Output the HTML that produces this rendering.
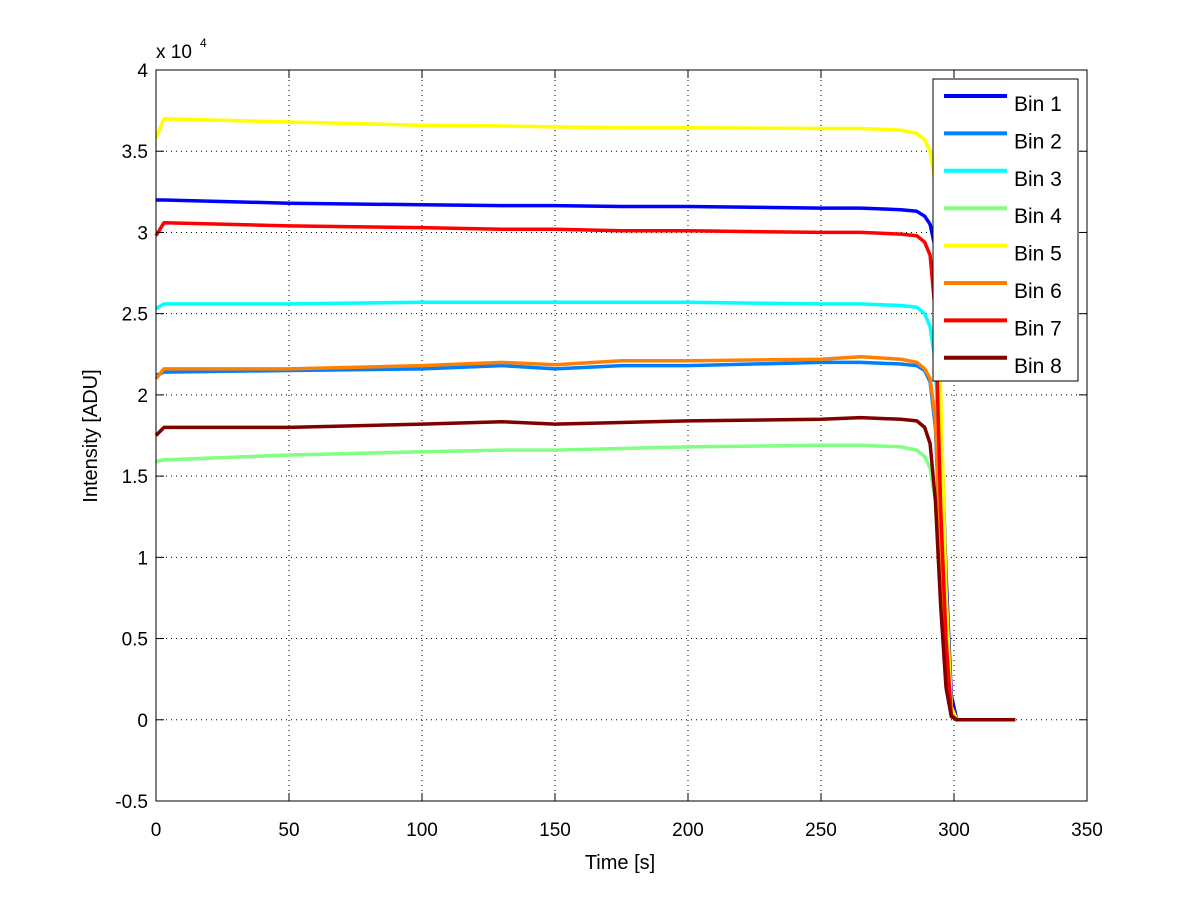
<!DOCTYPE html>
<html><head><meta charset="utf-8"><style>
body{margin:0;background:#fff;font-family:"Liberation Sans",sans-serif}
svg text{font-family:"Liberation Sans",sans-serif}
</style></head><body>
<svg id="chart" width="1200" height="901">
<rect width="1200" height="901" fill="#fff"/>
<g id="grid"></g><g id="series"></g><g id="axes"></g><g id="legend"></g>
</svg>
<script>
const times=[0,3,50,100,130,150,175,200,250,265,280,286,289,291,293,295,297,299,301,323];
const bin1=[3.20,3.20,3.18,3.17,3.165,3.165,3.16,3.16,3.15,3.15,3.14,3.13,3.10,3.05,2.9,1.9,0.9,0.15,0.0,0];
const bin2=[2.12,2.14,2.15,2.16,2.18,2.16,2.18,2.18,2.20,2.20,2.19,2.18,2.15,2.08,1.8,1.0,0.4,0.03,0,0];
const bin3=[2.53,2.56,2.56,2.57,2.57,2.57,2.57,2.57,2.56,2.56,2.55,2.54,2.50,2.42,2.2,1.3,0.5,0.03,0,0];
const bin4=[1.59,1.60,1.63,1.65,1.66,1.66,1.67,1.68,1.69,1.69,1.68,1.66,1.62,1.55,1.35,0.9,0.35,0.02,0,0];
const bin5=[3.58,3.70,3.68,3.66,3.655,3.65,3.645,3.645,3.64,3.64,3.63,3.61,3.57,3.50,3.3,2.0,0.8,0.08,0,0];
const bin6=[2.10,2.16,2.16,2.18,2.20,2.185,2.21,2.21,2.22,2.235,2.22,2.20,2.16,2.10,1.85,1.0,0.4,0.03,0,0];
const bin7=[2.98,3.06,3.04,3.03,3.02,3.02,3.01,3.01,3.00,3.00,2.99,2.98,2.94,2.86,2.5,1.3,0.5,0.03,0,0];
const bin8=[1.75,1.80,1.80,1.82,1.835,1.82,1.83,1.84,1.85,1.86,1.85,1.84,1.80,1.70,1.35,0.7,0.2,0.02,0,0];
const xTicks=[0,50,100,150,200,250,300,350];
const yTicks=[-0.5,0,0.5,1,1.5,2,2.5,3,3.5,4];
const names=["Bin 1","Bin 2","Bin 3","Bin 4","Bin 5","Bin 6","Bin 7","Bin 8"];
const colors=["#0000ff","#0080ff","#00ffff","#80ff80","#ffff00","#ff8000","#ff0000","#800000"];
const all=[bin1,bin2,bin3,bin4,bin5,bin6,bin7,bin8];
const NS="http://www.w3.org/2000/svg";
const L=156,R=1087,T=70,B=801;
const xs=v=>L+(v-0)/350*(R-L);
const ys=v=>B-(v+0.5)/4.5*(B-T);
function mk(p,tag,at,txt){const e=document.createElementNS(NS,tag);for(const k in at)e.setAttribute(k,at[k]);if(txt!=null)e.textContent=txt;p.appendChild(e);return e;}
const grid=document.getElementById('grid'),axes=document.getElementById('axes'),ser=document.getElementById('series'),leg=document.getElementById('legend');
xTicks.forEach(t=>{const x=xs(t);
 if(t>0&&t<350){const g=mk(grid,'line',{x1:x,x2:x,y1:T,y2:B,stroke:'#000','stroke-width':1,'stroke-dasharray':'1,4'});
 }
 mk(axes,'line',{x1:x,x2:x,y1:B,y2:B-8,stroke:'#000'});mk(axes,'line',{x1:x,x2:x,y1:T,y2:T+8,stroke:'#000'});
 const tx=mk(axes,'text',{x:x,y:B+35,'text-anchor':'middle','font-size':19},String(t));
 });
yTicks.forEach(t=>{const y=ys(t);
 if(t>-0.5&&t<4){const g=mk(grid,'line',{x1:L,x2:R,y1:y,y2:y,stroke:'#000','stroke-width':1,'stroke-dasharray':'1,4'});
 }
 mk(axes,'line',{x1:L,x2:L+8,y1:y,y2:y,stroke:'#000'});mk(axes,'line',{x1:R,x2:R-8,y1:y,y2:y,stroke:'#000'});
 const tx=mk(axes,'text',{x:L-8,y:y+7,'text-anchor':'end','font-size':19},String(t));
 });
const fr=mk(axes,'rect',{x:L,y:T,width:R-L,height:B-T,fill:'none',stroke:'#000'});

const ex=mk(axes,'text',{x:156,y:58,'font-size':19},'x 10');

mk(axes,'text',{x:200,y:47,'font-size':12},'4');
const xt=mk(axes,'text',{x:620,y:869,'text-anchor':'middle','font-size':20},'Time [s]');

const yt=mk(axes,'text',{x:97,y:436,'text-anchor':'middle','font-size':20,transform:'rotate(-90 97 436)'},'Intensity [ADU]');

all.forEach((s,i)=>{const d=s.map((v,j)=>(j?'L':'M')+xs(times[j]).toFixed(1)+','+ys(v).toFixed(1)).join('');
 const p=mk(ser,'path',{d:d,fill:'none',stroke:colors[i],'stroke-width':3.5,'stroke-linejoin':'round'});
 });
const lb=mk(leg,'rect',{x:933,y:79,width:145,height:302,fill:'#fff',stroke:'#000'});

names.forEach((n,i)=>{const y=103+i*37.4;
 mk(leg,'line',{x1:944,x2:1007,y1:y-7,y2:y-7,stroke:colors[i],'stroke-width':4});
 const t=mk(leg,'text',{x:1014,y:y+8,'font-size':21},n);
 });
</script>
</body></html>
